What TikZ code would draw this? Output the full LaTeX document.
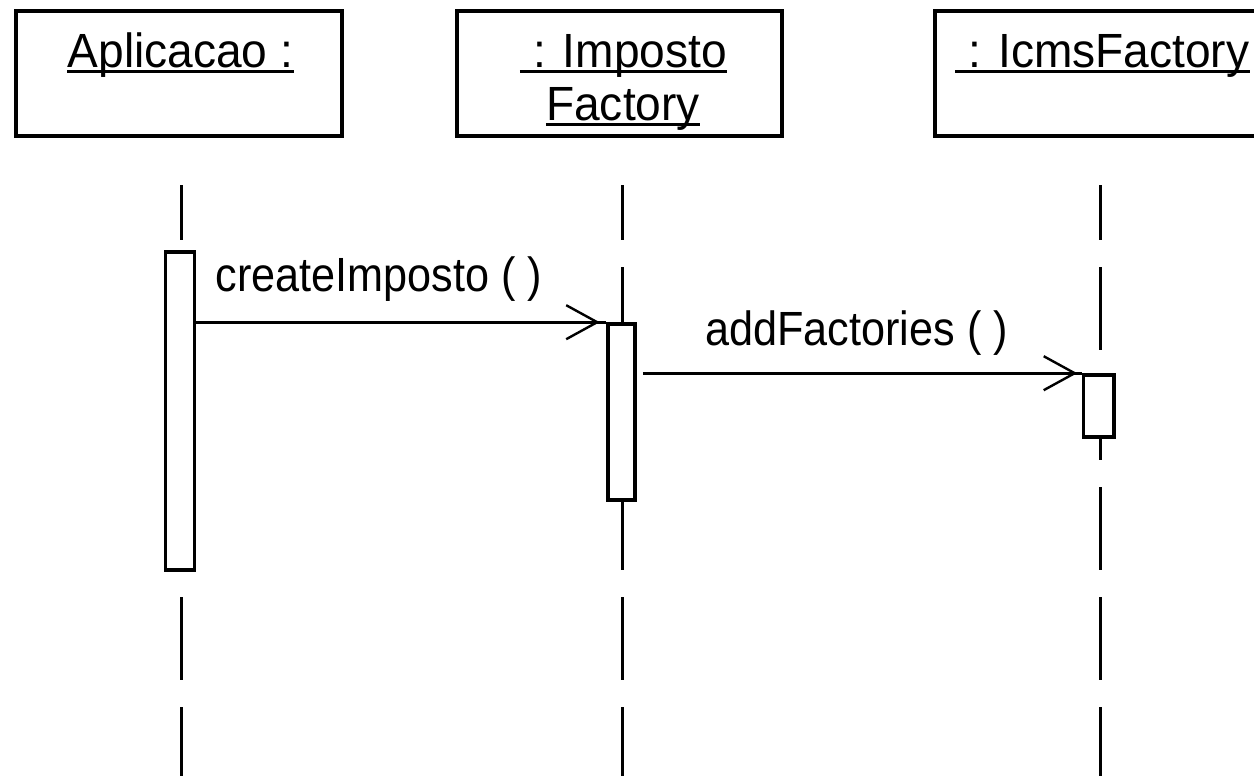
\documentclass[tikz,border=0pt]{standalone}
\usepackage{fontspec}
\setmainfont[FakeStretch=0.96]{Liberation Sans}
\newfontfamily\msgfont[FakeStretch=0.9]{Liberation Sans}
\usetikzlibrary{calc}

\tikzset{
  objbox/.style={draw=black, line width=2pt, fill=white, inner sep=0pt,
    minimum width=163pt, minimum height=62.5pt},
  actbox/.style={draw=black, line width=1.8pt, fill=white, inner sep=0pt},
  objname/.style={inner sep=0pt, anchor=base, font=\fontsize{24pt}{26pt}\selectfont},
  msgname/.style={inner sep=0pt, anchor=base west, font=\msgfont\fontsize{24pt}{26pt}\selectfont},
  uline/.style={line width=1.5pt},
  lifeline/.style={line width=1.5pt, dash pattern=on 41.5pt off 13.5pt, dash phase=14pt},
  msgline/.style={line width=1.6pt},
  msghead/.style={line width=1.2pt, line join=miter}
}

\begin{document}
\begin{tikzpicture}[x=0.5pt, y=-0.5pt]
  \useasboundingbox (0,0) rectangle (1254,776);
  \clip (0,0) rectangle (1254,776);
  \fill[white] (0,0) rectangle (1254,776);

  % object boxes
  \node[objbox] (o1) at (179,73.5) {};
  \node[objbox, minimum width=162.5pt] (o2) at (619.5,73.5) {};
  \node[objbox] (o3) at (1098,73.5) {};

  % object names, underlined
  \node[objname] (n1) at (180.5,68) {Aplicacao :\ };
  \node[objname] (n2a) at (623.5,68) {\ : Imposto};
  \node[objname] (n2b) at (623,120) {Factory};
  \node[objname] (n3) at (1102.5,68) {\ : IcmsFactory};
  \draw[uline] ([yshift=-1.5pt]n1.base west) -- ([yshift=-1.5pt]n1.base east);
  \draw[uline] ([yshift=-1.5pt]n2a.base west) -- ([yshift=-1.5pt]n2a.base east);
  \draw[uline] ([yshift=-2pt]n2b.base west) -- ([yshift=-2pt]n2b.base east);
  \draw[uline] ([yshift=-1.5pt]n3.base west) -- ([yshift=-1.5pt]n3.base east);

  % lifelines
  \coordinate (l1t) at (181,185);   \coordinate (l1b) at (181,800);
  \coordinate (l2t) at (622,185);   \coordinate (l2b) at (622,800);
  \coordinate (l3t) at (1100.5,185); \coordinate (l3b) at (1100.5,800);
  \draw[lifeline] (l1t) -- (l1b);
  \draw[lifeline] (l2t) -- (l2b);
  \draw[lifeline] (l3t) -- (l3b);

  % activation bars
  \node[actbox, minimum width=14.5pt, minimum height=159pt] (a1) at (180,411) {};
  \node[actbox, minimum width=13.5pt, minimum height=88pt] (a2) at (621.5,412) {};
  \node[actbox, minimum width=15.25pt, minimum height=31pt] (a3) at (1098.75,406) {};

  % message: createImposto
  \coordinate (m1s) at (a1.east |- a2.north west);
  \draw[msgline] (m1s) -- (a2.north west);
  \coordinate (tip1) at ($(a2.north west)+(-9,0)$);
  \draw[msghead] ($(tip1)+(-31,-17)$) -- (tip1) -- ($(tip1)+(-31,17)$);
  \node[msgname] (lab1) at (215,291) {createImposto ( )};

  % message: addFactories
  \coordinate (m2s) at ($(a2.east |- a3.north west)+(6,0)$);
  \draw[msgline] (m2s) -- (a3.north west);
  \coordinate (tip2) at ($(a3.north west)+(-7,0)$);
  \draw[msghead] ($(tip2)+(-31,-17)$) -- (tip2) -- ($(tip2)+(-31,17)$);
  \node[msgname] (lab2) at (705,345) {addFactories ( )};
\end{tikzpicture}
\end{document}
